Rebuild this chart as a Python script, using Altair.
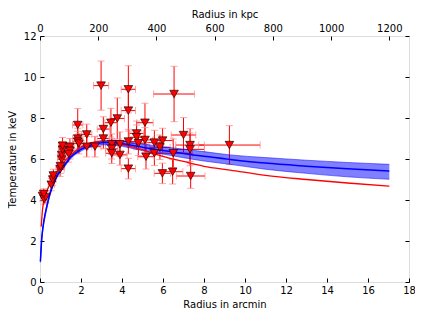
import altair as alt
import pandas as pd

# ---- data points (arcmin, keV) ----
r = [0.12, 0.20, 0.28, 0.18, 0.55, 0.62, 0.65, 0.98, 1.00, 1.06, 1.06, 1.10, 1.10,
     1.46, 1.46, 1.40, 1.84, 1.84, 1.84, 1.90, 2.28, 2.28, 2.68, 2.98, 3.09, 3.09,
     3.46, 3.50, 3.50, 3.50, 3.77, 3.90, 3.90, 4.31, 4.31, 4.31, 4.31, 4.71, 4.71,
     4.80, 5.12, 5.12, 5.17, 5.58, 5.58, 5.85, 5.98, 5.97, 6.50, 6.47, 6.54, 7.00,
     7.32, 7.32, 7.35, 9.24]
T = [4.20, 4.05, 4.15, 4.30, 4.75, 5.00, 5.20, 5.50, 5.65, 5.98, 6.20, 6.45, 6.65,
     6.60, 6.40, 6.25, 7.66, 7.00, 6.85, 6.75, 7.20, 6.60, 6.60, 9.58, 7.46, 7.00,
     7.77, 6.72, 6.50, 6.28, 7.98, 6.72, 6.20, 9.40, 8.36, 6.85, 5.53, 7.25, 7.06,
     6.77, 7.77, 6.93, 6.11, 6.80, 6.28, 6.57, 6.90, 5.30, 6.28, 5.38, 9.17, 7.17,
     6.68, 6.47, 5.17, 6.68]
r_err = [0.10, 0.10, 0.10, 0.10, 0.15, 0.15, 0.15, 0.20, 0.20, 0.20, 0.20, 0.20, 0.20,
         0.20, 0.20, 0.20, 0.25, 0.25, 0.25, 0.25, 0.25, 0.25, 0.30, 0.37, 0.30, 0.30,
         0.30, 0.30, 0.30, 0.30, 0.35, 0.35, 0.35, 0.35, 0.35, 0.35, 0.35, 0.35, 0.35,
         0.40, 0.40, 0.40, 0.40, 0.40, 0.40, 0.50, 0.50, 0.40, 0.95, 0.50, 1.00, 0.60,
         0.70, 0.70, 0.70, 1.50]
T_err = [0.25, 0.25, 0.30, 0.25, 0.30, 0.30, 0.30, 0.35, 0.35, 0.40, 0.40, 0.40, 0.40,
         0.40, 0.40, 0.40, 0.80, 0.50, 0.50, 0.50, 0.50, 0.50, 0.50, 1.20, 0.60, 0.50,
         0.70, 0.50, 0.50, 0.50, 1.00, 0.60, 0.50, 1.15, 1.00, 0.60, 0.50, 0.60, 0.60,
         0.60, 0.95, 0.60, 0.60, 0.60, 0.60, 0.60, 0.60, 0.50, 0.70, 0.60, 1.35, 0.85,
         0.80, 0.80, 0.60, 0.95]

# ---- fitted profiles ----
blue_r = [0.02, 0.08, 0.15, 0.25, 0.33, 0.5, 0.73, 1.0, 1.14, 1.5, 1.95, 2.4, 2.76,
          3.2, 3.58, 4.0, 4.39, 5.0, 6.0, 7.0, 8.0, 9.27, 11.0, 13.0, 15.0, 17.04]
blue_T = [1.0, 2.05, 2.7, 3.3, 3.67, 4.35, 4.97, 5.45, 5.62, 6.1, 6.44, 6.65, 6.76,
          6.8, 6.8, 6.75, 6.68, 6.57, 6.42, 6.27, 6.13, 5.98, 5.8, 5.65, 5.52, 5.41]
blue_lo = [0.95, 1.98, 2.62, 3.22, 3.59, 4.27, 4.89, 5.37, 5.54, 6.02, 6.36, 6.56, 6.66,
           6.69, 6.68, 6.62, 6.54, 6.41, 6.24, 6.06, 5.9, 5.74, 5.5, 5.3, 5.13, 5.01]
blue_hi = [1.05, 2.12, 2.78, 3.38, 3.75, 4.43, 5.05, 5.53, 5.7, 6.18, 6.52, 6.74, 6.86,
           6.91, 6.92, 6.88, 6.82, 6.73, 6.6, 6.48, 6.36, 6.2, 6.07, 5.94, 5.83, 5.74]
red_r = [0.06, 0.12, 0.2, 0.3, 0.5, 0.75, 1.0, 1.5, 2.0, 2.5, 3.0, 3.5, 4.0, 5.0, 6.0,
         7.0, 8.0, 9.27, 11.0, 13.0, 15.0, 17.04]
red_T = [2.7, 3.5, 4.0, 4.35, 4.8, 5.25, 5.65, 6.2, 6.6, 6.8, 6.85, 6.8, 6.7, 6.45, 6.13,
         5.88, 5.64, 5.46, 5.2, 5.0, 4.83, 4.68]

x_ticks = [0, 2, 4, 6, 8, 10, 12, 14, 16, 18]
y_ticks = [0, 2, 4, 6, 8, 10, 12]
kpc_ticks = [0, 200, 400, 600, 800, 1000, 1200]
kpc_max = 1267.6

pts = pd.DataFrame({"r": r, "T": T, "re": r_err, "Te": T_err})
pts["r_lo"] = pts["r"] - pts["re"]
pts["r_hi"] = pts["r"] + pts["re"]
pts["T_lo"] = pts["T"] - pts["Te"]
pts["T_hi"] = pts["T"] + pts["Te"]
vcaps = pd.DataFrame({"r": list(pts["r"]) * 2, "T": list(pts["T_lo"]) + list(pts["T_hi"])})
hcaps = pd.DataFrame({"r": list(pts["r_lo"]) + list(pts["r_hi"]), "T": list(pts["T"]) * 2})
blue = pd.DataFrame({"r": blue_r, "T": blue_T, "lo": blue_lo, "hi": blue_hi})
red = pd.DataFrame({"r": red_r, "T": red_T})

FONT = "DejaVu Sans"
xs = alt.Scale(domain=[0, 18], nice=False, zero=False)
ys = alt.Scale(domain=[0, 12], nice=False, zero=False)
common = dict(domain=False, tickSize=4, offset=-4, tickColor="black", labelColor="black",
              labelFont=FONT, labelFontSize=10, titleFont=FONT, titleFontSize=10,
              titleFontWeight="normal", titleColor="black", grid=False, labelFlush=False,
              labelOverlap=False, format="d")
xaxis = alt.Axis(values=x_ticks, title="Radius in arcmin", labelPadding=3, titlePadding=4, **common)
yaxis = alt.Axis(values=y_ticks, title="Temperature in keV", labelPadding=4, titlePadding=6, **common)


def X(f):
    return alt.X(f, type="quantitative", scale=xs, axis=xaxis)


def Y(f):
    return alt.Y(f, type="quantitative", scale=ys, axis=yaxis)


vbars = alt.Chart(pts).mark_rule(color="#ff0000", strokeWidth=1).encode(
    x=X("r"), y=Y("T_lo"), y2="T_hi")
hbars = alt.Chart(pts).mark_rule(color="#ff0000", strokeWidth=1).encode(
    x=X("r_lo"), x2="r_hi", y=Y("T"))
vcap = alt.Chart(vcaps).mark_tick(color="#ff8080", orient="horizontal", size=7, thickness=1).encode(
    x=X("r"), y=Y("T"))
hcap = alt.Chart(hcaps).mark_tick(color="#ff8080", orient="vertical", size=7, thickness=1).encode(
    x=X("r"), y=Y("T"))
red_line = alt.Chart(red).mark_line(color="#ff0000", strokeWidth=1.3, interpolate="monotone").encode(
    x=X("r"), y=Y("T"))
band = alt.Chart(blue).mark_area(color="#0000ff", opacity=0.5, interpolate="monotone").encode(
    x=X("r"), y=Y("lo"), y2="hi")
band_lo = alt.Chart(blue).mark_line(color="#0000ff", opacity=0.5, strokeWidth=1, interpolate="monotone").encode(
    x=X("r"), y=Y("lo"))
band_hi = alt.Chart(blue).mark_line(color="#0000ff", opacity=0.5, strokeWidth=1, interpolate="monotone").encode(
    x=X("r"), y=Y("hi"))
blue_line = alt.Chart(blue).mark_line(color="#0000ff", strokeWidth=1.5, interpolate="monotone").encode(
    x=X("r"), y=Y("T"))
points = alt.Chart(pts).mark_point(shape="triangle-down", filled=True, fill="#ff0000", stroke="black",
                                   strokeWidth=0.6, size=75, opacity=1).encode(x=X("r"), y=Y("T"))

main = alt.layer(vbars, hbars, vcap, hcap, band, band_lo, band_hi, red_line, blue_line, points)

top = alt.Chart(pd.DataFrame({"kpc": kpc_ticks, "T": [6] * len(kpc_ticks)})).mark_point(opacity=0).encode(
    x=alt.X("kpc:Q", scale=alt.Scale(domain=[0, kpc_max], nice=False, zero=False),
            axis=alt.Axis(orient="top", values=kpc_ticks, title="Radius in kpc", labelPadding=3,
                          titlePadding=4, **common)),
    y=alt.Y("T:Q", scale=ys, axis=alt.Axis(orient="right", values=y_ticks, labels=False, title=None, **common)),
)

chart = alt.layer(main, top).resolve_scale(x="independent").resolve_axis(y="independent").properties(
    width=369, height=246,
    autosize=alt.AutoSizeParams(type="none"),
    padding={"left": 32, "top": 28, "right": 6, "bottom": 30},
).configure_view(stroke="black", strokeWidth=1).configure(background="white")

chart.save("out.html", embed_options={"renderer": "svg", "actions": False})
